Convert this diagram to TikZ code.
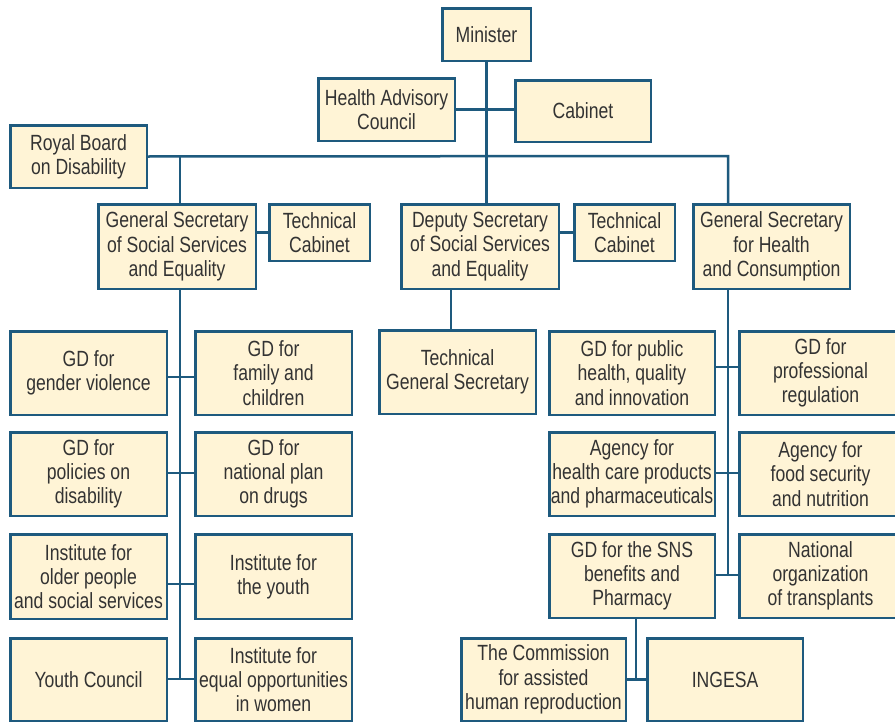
\documentclass[tikz,border=0pt]{standalone}
\usepackage{fontspec}
\setmainfont{Liberation Sans}[FakeStretch=0.8]
\definecolor{edge}{HTML}{1E5A7E}
\definecolor{cream}{HTML}{FFF4D6}
\definecolor{txt}{HTML}{333333}
\newcommand\bx[6]{\node[box, minimum width={#4-#2-2.5}, minimum height={#5-#3-2.5}] (#1) at ({(#2+#4)/2},{(#3+#5)/2}) {#6};}
\begin{document}
\begin{tikzpicture}[x=1pt,y=-1pt,
  box/.style={draw=edge, fill=cream, line width=2.5pt, align=center, inner sep=0pt, outer sep=0pt, text=txt, font=\fontsize{22}{24.3}\selectfont},
  link/.style={draw=edge, line width=2.5pt}]
\clip (0,0) rectangle (895,723);
\fill[white] (0,0) rectangle (895,723);
% top
\bx{min}{441}{7}{532}{62}{Minister}
\bx{ha}{317}{77}{456}{142}{Health Advisory\\Council}
\bx{cab}{514}{79}{652}{143}{Cabinet}
\bx{rb}{9}{124}{148}{189}{Royal Board\\on Disability}
\bx{gss}{97}{203}{257}{290}{General Secretary\\of Social Services\\and Equality}
\bx{tc1}{268}{203}{371}{262}{Technical\\Cabinet}
\bx{dep}{400}{203}{560}{290}{Deputy Secretary\\of Social Services\\and Equality}
\bx{tc2}{573}{203}{676}{262}{Technical\\Cabinet}
\bx{gsh}{692}{203}{851}{290}{General Secretary\\for Health\\and Consumption}
% left column
\bx{gv}{9}{330}{168}{416}{GD for\\gender violence}
\bx{fc}{194}{330}{353}{416}{GD for\\family and\\children}
\bx{pd}{9}{431}{168}{517}{GD for\\policies on\\disability}
\bx{np}{194}{431}{353}{517}{GD for\\national plan\\on drugs}
\bx{op}{9}{533}{168}{620}{Institute for\\older people\\and social services}
\bx{yo}{194}{533}{353}{620}{Institute for\\the youth}
\bx{yc}{9}{637}{168}{722}{Youth Council}
\bx{eq}{194}{637}{353}{722}{Institute for\\equal opportunities\\in women}
% middle
\bx{tgs}{378}{329}{537}{415}{Technical\\General Secretary}
% right column
\bx{ph}{548}{330}{716}{416}{GD for public\\health, quality\\and innovation}
\bx{pr}{738}{330}{903}{416}{GD for\\professional\\regulation}
\bx{ah}{548}{431}{716}{517}{Agency for\\health care products\\and pharmaceuticals}
\bx{af}{738}{431}{903}{517}{Agency for\\food security\\and nutrition}
\bx{sns}{548}{533}{716}{619}{GD for the SNS\\benefits and\\Pharmacy}
\bx{no}{738}{533}{903}{619}{National\\organization\\of transplants}
\bx{com}{460}{637}{627}{722}{The Commission\\for assisted\\human reproduction}
\bx{ing}{646}{637}{804}{722}{INGESA}
% connectors
\coordinate (busL) at (180,156);
\coordinate (busR) at (728,156);
\coordinate (lsp) at (180,679);
\coordinate (rsp) at (728,575);
\coordinate (dsp) at (451,300);
\coordinate (ssp) at (636,679);
\path[link] (min.south) -- (min.south |- dep.north);
\path[link] (ha.east) -- (cab.west |- ha.east);
\path[link] (rb.east) -- (busR) -- (busR |- gsh.north);
\path[link] (busL) -- (busL |- gss.north);
\path[link] (tc1.west) -- (gss.east |- tc1.west);
\path[link] (tc2.west) -- (dep.east |- tc2.west);
\path[link] (lsp |- gss.south) -- (lsp);
\path[link] (gv.east |- 0,377) -- (fc.west |- 0,377);
\path[link] (pd.east |- 0,473) -- (np.west |- 0,473);
\path[link] (op.east |- 0,584) -- (yo.west |- 0,584);
\path[link] (yc.east |- 0,679) -- (eq.west |- 0,679);
\path[link] (dsp |- dep.south) -- (dsp |- tgs.north);
\path[link] (rsp |- gsh.south) -- (rsp);
\path[link] (ph.east |- 0,367) -- (pr.west |- 0,367);
\path[link] (ah.east |- 0,473) -- (af.west |- 0,473);
\path[link] (sns.east |- 0,575) -- (no.west |- 0,575);
\path[link] (ssp |- sns.south) -- (ssp);
\path[link] (com.east) -- (ing.west);
\end{tikzpicture}
\end{document}
